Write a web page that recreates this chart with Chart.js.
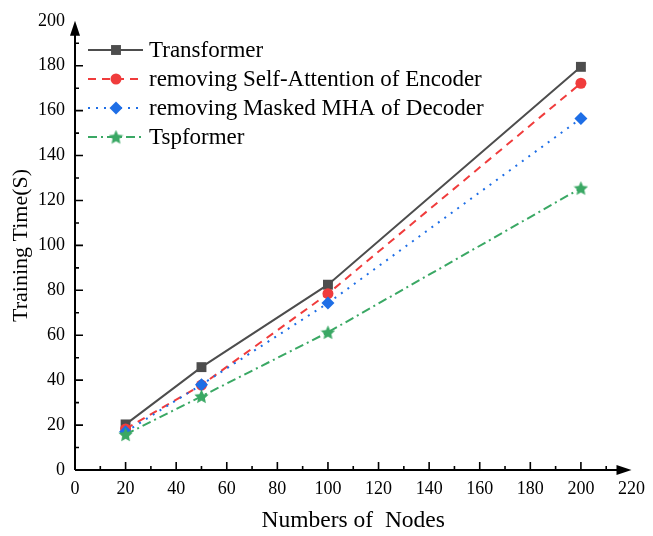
<!DOCTYPE html>
<html><head><meta charset="utf-8">
<script src="https://cdn.jsdelivr.net/npm/chart.js@4/dist/chart.umd.min.js"></script>
<style>html,body{margin:0;padding:0;background:#fff}canvas{display:block}</style>
</head><body>
<canvas id="c" width="653" height="536"></canvas>
<script>
// ---- data ----
const nodes = [20, 50, 100, 200];
const transformer = [20.3, 45.8, 82.5, 179.5];
const noSelfAttnEncoder = [18.3, 37.8, 78.5, 172.2];
const noMaskedMHADecoder = [17.0, 38.0, 74.3, 156.5];
const tspformer = [15.8, 32.8, 61.3, 125.5];
const seriesNames = ["Transformer", "removing Self-Attention of Encoder", "removing Masked MHA of Decoder", "Tspformer"];
const xTickValues = [0, 20, 40, 60, 80, 100, 120, 140, 160, 180, 200, 220];
const yTickValues = [0, 20, 40, 60, 80, 100, 120, 140, 160, 180, 200];
const xTitle = "Numbers of  Nodes";
const yTitle = "Training Time(S)";

const FONT = "'Liberation Serif', 'Times New Roman', serif";
const colors = ["#4d4d4d", "#f03c3c", "#1e6ee6", "#3aa864"];

function makeStar(color, size) {
  const c = document.createElement('canvas');
  c.width = c.height = size;
  const g = c.getContext('2d');
  g.fillStyle = color;
  g.beginPath();
  const cx = size / 2, cy = size / 2 + 0.6, R = size / 2, r = R * 0.48;
  for (let i = 0; i < 10; i++) {
    const a = -Math.PI / 2 + i * Math.PI / 5;
    const rr = i % 2 ? r : R;
    g.lineTo(cx + rr * Math.cos(a), cy + rr * Math.sin(a));
  }
  g.closePath();
  g.fill();
  return c;
}
const starImg = makeStar(colors[3], 15);

const styles = [
  {dash: [], pointStyle: 'rect', radius: 7},
  {dash: [8, 6], pointStyle: 'circle', radius: 5.5},
  {dash: [2, 6], pointStyle: 'rectRot', radius: 6.5},
  {dash: [9, 4, 2, 4], pointStyle: starImg, radius: 7}
];
const seriesValues = [transformer, noSelfAttnEncoder, noMaskedMHADecoder, tspformer];

const datasets = seriesValues.map((vals, i) => ({
  label: seriesNames[i],
  data: nodes.map((x, j) => ({x: x, y: vals[j]})),
  borderColor: colors[i],
  backgroundColor: colors[i],
  borderWidth: 2,
  borderDash: styles[i].dash,
  pointStyle: styles[i].pointStyle,
  pointRadius: styles[i].radius,
  pointBorderWidth: 0,
  pointBackgroundColor: colors[i],
  pointBorderColor: colors[i],
  tension: 0,
  clip: false,
  order: 4 - i
}));

const axesPlugin = {
  id: 'axesPlugin',
  beforeDatasetsDraw(chart) {
    const ctx = chart.ctx;
    const xs = chart.scales.x, ys = chart.scales.y;
    const L = xs.getPixelForValue(0), R = xs.getPixelForValue(220);
    const B = ys.getPixelForValue(0), T = ys.getPixelForValue(200);
    ctx.save();
    ctx.strokeStyle = '#000';
    ctx.fillStyle = '#000';
    ctx.lineWidth = 2;
    ctx.beginPath();
    ctx.moveTo(L, B); ctx.lineTo(R - 8, B);
    ctx.moveTo(L, B); ctx.lineTo(L, T + 8);
    ctx.stroke();
    // arrows
    ctx.beginPath();
    ctx.moveTo(R, B); ctx.lineTo(R - 15, B - 5); ctx.lineTo(R - 15, B + 5); ctx.closePath(); ctx.fill();
    ctx.beginPath();
    ctx.moveTo(L, T); ctx.lineTo(L - 5, T + 15); ctx.lineTo(L + 5, T + 15); ctx.closePath(); ctx.fill();
    // ticks
    ctx.lineWidth = 1.6;
    ctx.beginPath();
    for (let i = 1; i < xTickValues.length; i++) {
      const v = xTickValues[i];
      if (v < 220) { const p = xs.getPixelForValue(v); ctx.moveTo(p, B); ctx.lineTo(p, B - 8); }
      const m = (xTickValues[i - 1] + v) / 2; const pm = xs.getPixelForValue(m);
      ctx.moveTo(pm, B); ctx.lineTo(pm, B - 4);
    }
    for (let i = 1; i < yTickValues.length; i++) {
      const v = yTickValues[i];
      if (v < 200) { const p = ys.getPixelForValue(v); ctx.moveTo(L, p); ctx.lineTo(L + 8, p); }
      const m = (yTickValues[i - 1] + v) / 2; const pm = ys.getPixelForValue(m);
      ctx.moveTo(L, pm); ctx.lineTo(L + 4, pm);
    }
    ctx.stroke();
    ctx.restore();
  },
  afterDraw(chart) {
    const ctx = chart.ctx;
    const x0 = 88, x1 = 143, xm = 116, tx = 149, y0 = 50, dy = 29;
    ctx.save();
    for (let i = 0; i < seriesNames.length; i++) {
      const y = y0 + i * dy;
      ctx.strokeStyle = colors[i];
      ctx.fillStyle = colors[i];
      ctx.lineWidth = 2;
      ctx.setLineDash(styles[i].dash);
      ctx.beginPath(); ctx.moveTo(x0, y); ctx.lineTo(x1, y); ctx.stroke();
      ctx.setLineDash([]);
      Chart.helpers.drawPoint(ctx, {pointStyle: styles[i].pointStyle, radius: styles[i].radius, rotation: 0, borderWidth: 0}, xm, y);
      ctx.fillStyle = '#000';
      ctx.font = '23px ' + FONT;
      ctx.textAlign = 'left';
      ctx.textBaseline = 'middle';
      ctx.fillText(seriesNames[i], tx, y + 1);
    }
    ctx.restore();
  }
};

new Chart(document.getElementById('c'), {
  type: 'line',
  data: {datasets: datasets},
  options: {
    responsive: false,
    animation: false,
    devicePixelRatio: 1,
    layout: {padding: {top: 17, right: 16, left: 0, bottom: 0}},
    plugins: {legend: {display: false}, tooltip: {enabled: false}},
    scales: {
      x: {
        type: 'linear', min: 0, max: 220,
        afterBuildTicks: s => { s.ticks = xTickValues.map(v => ({value: v})); },
        afterFit: s => { s.height = 66; },
        grid: {display: false, drawTicks: false},
        border: {display: false},
        ticks: {color: '#000', font: {family: FONT, size: 18}, padding: 8, maxRotation: 0, autoSkip: false},
        title: {display: true, text: xTitle, color: '#000', font: {family: FONT, size: 23.5}, padding: {top: 0, bottom: 1}}
      },
      y: {
        type: 'linear', min: 0, max: 200,
        afterBuildTicks: s => { s.ticks = yTickValues.map(v => ({value: v})); },
        afterFit: s => { s.width = 75; },
        grid: {display: false, drawTicks: false},
        border: {display: false},
        ticks: {color: '#000', font: {family: FONT, size: 18}, padding: 10, autoSkip: false},
        title: {display: true, text: yTitle, color: '#000', font: {family: FONT, size: 22}, padding: {top: 8, bottom: 0}}
      }
    }
  },
  plugins: [axesPlugin]
});
</script>
</body></html>
